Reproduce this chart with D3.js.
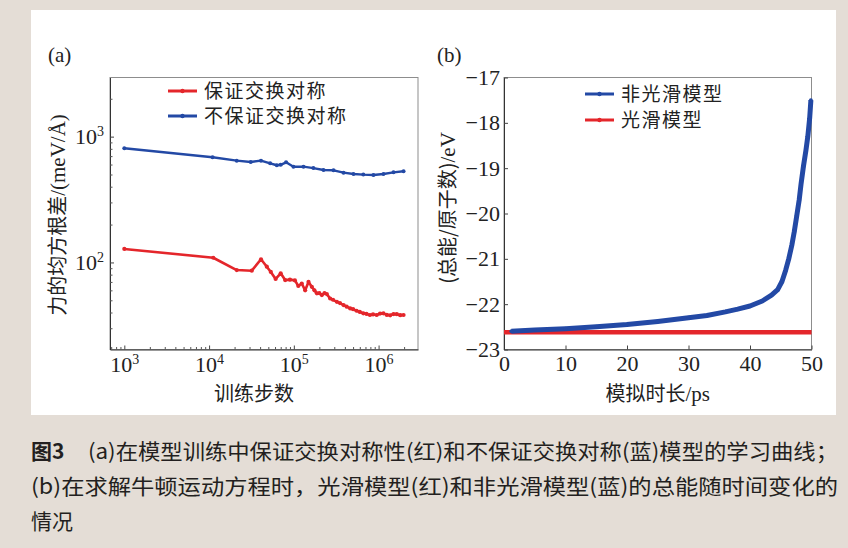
<!DOCTYPE html>
<html>
<head>
<meta charset="utf-8">
<script src="https://cdn.jsdelivr.net/npm/d3@7"></script>
<style>
	body { margin: 0; background: #e4ddd6; }
	svg { display: block; }
</style>
</head>
<body>
<div id="canvas"></div>
<script>
// (a) training curves, steps vs force RMSE (meV/Å)
const stepsRed = [1e3, 1.12e4, 2.12e4, 3.19e4, 4.1e4, 4.8e4, 5.35e4, 6.1e4, 7.0e4, 7.9e4, 9.0e4, 1.03e5, 1.13e5, 1.24e5, 1.36e5, 1.49e5, 1.63e5, 1.75e5, 1.87e5, 2.0e5, 2.14e5, 2.3e5, 2.45e5, 2.68e5, 2.9e5, 3.22e5, 3.5e5, 3.86e5, 4.2e5, 4.62e5, 5.0e5, 5.5e5, 6.0e5, 6.6e5, 7.2e5, 7.9e5, 8.6e5, 9.5e5, 1.04e6, 1.14e6, 1.25e6, 1.37e6, 1.5e6, 1.64e6, 1.8e6, 1.97e6];
const rmseRed = [128, 109, 87, 86, 106, 92.5, 84, 74, 82, 72.4, 73, 72, 65, 68, 60, 70, 64, 60, 56.8, 57, 55, 57, 56, 51.7, 50.5, 48.6, 47.5, 45.8, 44.5, 43.1, 42.5, 41.3, 40.4, 39.4, 39, 38.2, 38.6, 38.2, 39.2, 39.4, 38.3, 38, 38.9, 38.8, 38.1, 38.2];
const stepsBlue = [1e3, 1.1e4, 2.12e4, 3.1e4, 4.1e4, 5.25e4, 6.3e4, 7.0e4, 8.1e4, 9.9e4, 1.3e5, 1.7e5, 2.24e5, 2.94e5, 3.86e5, 5.06e5, 6.6e5, 8.7e5, 1.14e6, 1.5e6, 1.97e6];
const rmseBlue = [809, 685, 644, 629, 644, 614, 592, 597, 625, 577, 577, 562, 543, 540, 517, 505, 499, 495, 505, 520, 531];
const stepTicks = [1e3, 1e4, 1e5, 1e6];
const rmseTicks = [1e2, 1e3];
const legendA = ['保证交换对称', '不保证交换对称'];

// (b) total energy per atom (eV) vs simulated time (ps)
const timeBlue = [1.2, 5, 10, 15, 20, 25, 30, 33, 36, 38, 40, 42, 43.5, 44.5, 45.2, 45.8, 46.3, 46.8, 47.2, 47.6, 48, 48.3, 48.7, 49.1, 49.4, 49.7, 49.9];
const energyBlue = [-22.6, -22.57, -22.54, -22.5, -22.45, -22.38, -22.3, -22.25, -22.17, -22.11, -22.04, -21.93, -21.8, -21.68, -21.5, -21.25, -21.0, -20.7, -20.4, -20.05, -19.7, -19.35, -18.95, -18.6, -18.3, -17.9, -17.5];
const timeRed = [0, 10, 20, 30, 40, 50];
const energyRed = [-22.62, -22.62, -22.62, -22.62, -22.62, -22.62];
const timeTicks = [0, 10, 20, 30, 40, 50];
const energyTicks = [-23, -22, -21, -20, -19, -18, -17];
const legendB = ['非光滑模型', '光滑模型'];

const captionLines = [
	'(a)在模型训练中保证交换对称性(红)和不保证交换对称(蓝)模型的学习曲线；',
	'(b)在求解牛顿运动方程时，光滑模型(红)和非光滑模型(蓝)的总能随时间变化的',
	'情况',
];

const RED = '#e4262b';
const BLUE = '#2349a5';
const SERIF = '"Liberation Serif", "Times New Roman", serif';
const CJK = '"Noto Sans CJK SC", sans-serif';

const svg = d3.select('#canvas').append('svg').attr('width', 848).attr('height', 548);
svg.append('rect').attr('width', 848).attr('height', 548).attr('fill', '#e4ddd6');
svg.append('rect').attr('x', 31).attr('y', 10).attr('width', 805).attr('height', 405).attr('fill', '#fff');

drawPanelA();
drawPanelB();
drawCaption();

function frame(g, box) {
	g.append('rect')
		.attr('x', box.left)
		.attr('y', box.top)
		.attr('width', box.right - box.left)
		.attr('height', box.bottom - box.top)
		.attr('fill', 'none')
		.attr('stroke', '#8d8d8d')
		.attr('stroke-width', 1);
}

function styleAxis(ax) {
	ax.attr('font-family', SERIF).attr('font-size', 22);
	ax.select('.domain').attr('stroke', '#333');
	ax.selectAll('.tick line').attr('stroke', '#444');
	ax.selectAll('.tick text')
		.attr('fill', '#222')
		.style('font-family', SERIF)
		.style('font-size', '22px');
}

function powLabel(ax) {
	ax.selectAll('.tick text').each(function (d) {
		const t = d3.select(this).text('');
		t.append('tspan').text('10');
		t.append('tspan').attr('dy', '-0.55em').style('font-size', '14px').text(Math.round(Math.log10(d)));
	});
}

function drawSeries(g, xs, ys, x, y, color, width, r) {
	const pts = xs.map((d, i) => [x(d), y(ys[i])]);
	g.append('path')
		.attr('d', d3.line()(pts))
		.attr('fill', 'none')
		.attr('stroke', color)
		.attr('stroke-width', width)
		.attr('stroke-linejoin', 'round');
	if (r > 0) {
		g.selectAll(null)
			.data(pts)
			.join('circle')
			.attr('cx', d => d[0])
			.attr('cy', d => d[1])
			.attr('r', r)
			.attr('fill', color);
	}
}

function legend(g, items, colors, x, y, gap) {
	items.forEach((label, i) => {
		const yy = y + i * gap;
		g.append('line')
			.attr('x1', x).attr('x2', x + 29)
			.attr('y1', yy).attr('y2', yy)
			.attr('stroke', colors[i]).attr('stroke-width', 3);
		g.append('circle').attr('cx', x + 14.5).attr('cy', yy).attr('r', 2.2).attr('fill', colors[i]);
		g.append('text')
			.attr('x', x + 36).attr('y', yy + 7)
			.attr('fill', '#222')
			.style('font-family', CJK)
			.style('font-size', '19px')
			.style('letter-spacing', '1.5px')
			.text(label);
	});
}

function drawPanelA() {
	const box = { left: 110, right: 418, top: 77.5, bottom: 349.5 };
	const g = svg.append('g');

	const x = d3.scaleLog().domain([Math.pow(10, 2.831), Math.pow(10, 6.465)]).range([box.left, box.right]);
	const y = d3.scaleLog().domain([Math.pow(10, 1.308), Math.pow(10, 3.47)]).range([box.bottom, box.top]);

	frame(g, box);

	const xAxis = g.append('g')
		.attr('transform', `translate(0,${box.bottom})`)
		.call(d3.axisBottom(x).tickValues(stepTicks).tickSizeInner(-4).tickSizeOuter(0).tickPadding(7));
	styleAxis(xAxis);
	powLabel(xAxis);
	g.append('g')
		.attr('transform', `translate(0,${box.bottom})`)
		.call(d3.axisBottom(x).tickValues(x.ticks().filter(d => !stepTicks.includes(d))).tickSizeInner(-2.5).tickSizeOuter(0).tickFormat(''))
		.call(a => a.select('.domain').remove())
		.selectAll('line').attr('stroke', '#555');

	const yAxis = g.append('g')
		.attr('transform', `translate(${box.left},0)`)
		.call(d3.axisLeft(y).tickValues(rmseTicks).tickSizeInner(-4).tickSizeOuter(0).tickPadding(6));
	styleAxis(yAxis);
	powLabel(yAxis);
	g.append('g')
		.attr('transform', `translate(${box.left},0)`)
		.call(d3.axisLeft(y).tickValues(y.ticks().filter(d => !rmseTicks.includes(d))).tickSizeInner(-2.5).tickSizeOuter(0).tickFormat(''))
		.call(a => a.select('.domain').remove())
		.selectAll('line').attr('stroke', '#555');

	drawSeries(g, stepsBlue, rmseBlue, x, y, BLUE, 2.4, 2);
	drawSeries(g, stepsRed, rmseRed, x, y, RED, 2.6, 2.1);

	legend(g, legendA, [RED, BLUE], 168, 91, 25);

	g.append('text')
		.attr('x', 48).attr('y', 62)
		.attr('fill', '#222')
		.style('font-family', SERIF).style('font-size', '21px')
		.text('(a)');

	g.append('text')
		.attr('x', (box.left + box.right) / 2 - 10).attr('y', 401)
		.attr('text-anchor', 'middle')
		.attr('fill', '#222')
		.style('font-family', CJK).style('font-size', '20px')
		.text('训练步数');

	const yl = g.append('text')
		.attr('transform', 'translate(65,215) rotate(-90)')
		.attr('text-anchor', 'middle')
		.attr('fill', '#222')
		.style('font-size', '20px');
	yl.append('tspan').style('font-family', CJK).text('力的均方根差');
	yl.append('tspan').style('font-family', SERIF).style('font-size', '21px').text('/(meV/Å)');
}

function drawPanelB() {
	const box = { left: 504, right: 811.5, top: 77.5, bottom: 349.5 };
	const g = svg.append('g');

	const x = d3.scaleLinear().domain([0, 50]).range([box.left, box.right]);
	const y = d3.scaleLinear().domain([-23, -17]).range([box.bottom, box.top]);

	frame(g, box);

	const xAxis = g.append('g')
		.attr('transform', `translate(0,${box.bottom})`)
		.call(d3.axisBottom(x).tickValues(timeTicks).tickSizeInner(-4).tickSizeOuter(0).tickPadding(6));
	styleAxis(xAxis);

	const yAxis = g.append('g')
		.attr('transform', `translate(${box.left},0)`)
		.call(d3.axisLeft(y).tickValues(energyTicks).tickSizeInner(-4).tickSizeOuter(0).tickPadding(4).tickFormat(d => '−' + Math.abs(d)));
	styleAxis(yAxis);

	drawSeries(g, timeRed, energyRed, x, y, RED, 4.5, 0);
	drawSeries(g, timeBlue, energyBlue, x, y, BLUE, 5, 2);

	legend(g, legendB, [BLUE, RED], 585, 94, 26);

	g.append('text')
		.attr('x', 437).attr('y', 62)
		.attr('fill', '#222')
		.style('font-family', SERIF).style('font-size', '21px')
		.text('(b)');

	const xl = g.append('text')
		.attr('x', (box.left + box.right) / 2).attr('y', 401)
		.attr('text-anchor', 'middle')
		.attr('fill', '#222')
		.style('font-size', '20px');
	xl.append('tspan').style('font-family', CJK).text('模拟时长');
	xl.append('tspan').style('font-family', SERIF).style('font-size', '21px').text('/ps');

	const yl = g.append('text')
		.attr('transform', 'translate(455,208) rotate(-90)')
		.attr('text-anchor', 'middle')
		.attr('fill', '#222')
		.style('font-size', '20px');
	yl.append('tspan').style('font-family', CJK).text('(总能/原子数)');
	yl.append('tspan').style('font-family', SERIF).style('font-size', '21px').text('/eV');
}

function drawCaption() {
	const g = svg.append('g').attr('fill', '#231f20').style('font-family', CJK).style('font-size', '21px');
	g.append('text').attr('x', 31).attr('y', 459).style('font-weight', 'bold').text('图3');
	g.append('text').attr('x', 88).attr('y', 459)
		.attr('textLength', 750).attr('lengthAdjust', 'spacingAndGlyphs')
		.text(captionLines[0]);
	g.append('text').attr('x', 31).attr('y', 494)
		.attr('textLength', 807).attr('lengthAdjust', 'spacingAndGlyphs')
		.text(captionLines[1]);
	g.append('text').attr('x', 31).attr('y', 529).text(captionLines[2]);
}
</script>
</body>
</html>
